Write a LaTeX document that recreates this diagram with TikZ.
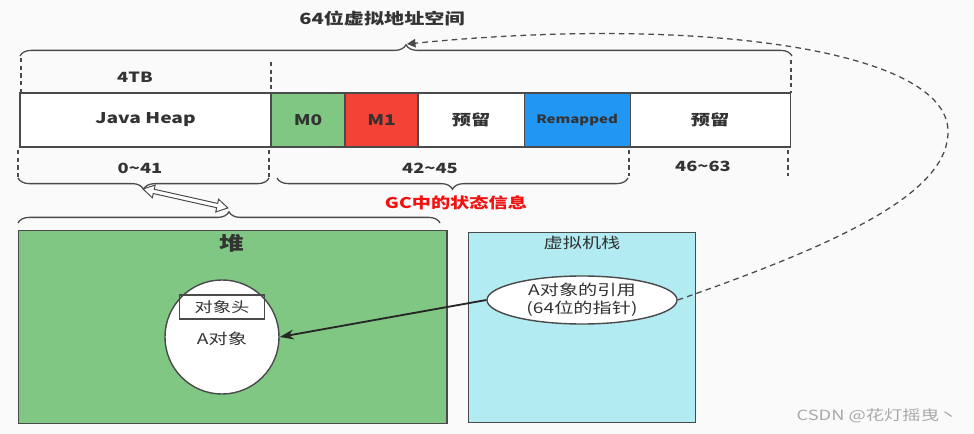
\documentclass[tikz,border=0pt]{standalone}
\usepackage{fontspec}
\setmainfont{Noto Sans CJK SC}[FakeStretch=1.3]
\usetikzlibrary{positioning,shapes.geometric,decorations.pathreplacing,arrows.meta,calc}
\definecolor{bgc}{HTML}{FAFAFA}
\definecolor{linegray}{HTML}{4A4A4A}
\definecolor{textdark}{HTML}{333333}
\definecolor{m0green}{HTML}{81C784}
\definecolor{m1red}{HTML}{F44336}
\definecolor{remapblue}{HTML}{2196F3}
\definecolor{heapgreen}{HTML}{80C783}
\definecolor{stackcyan}{HTML}{B2EBF2}
\definecolor{gcred}{HTML}{F21010}
\definecolor{markgray}{HTML}{A8A8A8}

\begin{document}
\begin{tikzpicture}[
        x=0.025cm, y=-0.025cm,
        >=Stealth,
        seg/.style={rectangle, draw=linegray, line width=0.9pt, fill=white, minimum height=1.35cm, inner sep=0pt, outer sep=0pt, font=\bfseries\fontsize{10.5}{12}\selectfont, text=textdark},
        lbl/.style={font=\bfseries\fontsize{10}{12}\selectfont, text=textdark},
        brc/.style={draw=linegray, line width=0.9pt, decorate, decoration={brace, amplitude=8pt}},
        guide/.style={draw=linegray, line width=0.9pt, dash pattern=on 3pt off 2.5pt},
        area/.style={rectangle, draw=linegray, line width=1pt, inner sep=0pt},
        link/.style={draw=linegray, fill=white, line width=0.7pt, line join=miter},
        ptr/.style={draw=black!85, line width=1.3pt, -{Stealth[length=10pt, width=7pt]}},
        dashline/.style={draw=linegray, line width=0.9pt, dash pattern=on 4pt off 3pt, -{Triangle[length=6pt, width=6pt]}}
    ]

    % ==========================================
    % 0. Canvas
    % ==========================================
    \fill[bgc] (0,0) rectangle (974,434);
    \useasboundingbox (0,0) rectangle (974,434);

    % ==========================================
    % 1. 64位地址 (Top)
    % ==========================================
    \node[font=\bfseries\fontsize{11}{13}\selectfont, text=textdark] (title) at (382,18) {64位虚拟地址空间};
    \draw[brc] (20,56) -- (792,56);
    \coordinate (toptip) at (407,44);

    \draw[guide] (21,58) -- (21,93);
    \draw[guide] (271,62) -- (271,93);
    \draw[guide] (791,60) -- (791,93);
    \node[lbl] (size) at (135,77) {4TB};

    % 地址位段
    \node[seg, minimum width=6.275cm, anchor=north west] (jheap) at (20,93) {Java Heap};
    \node[seg, fill=m0green, minimum width=1.85cm, right=0pt of jheap] (m0) {M0};
    \node[seg, fill=m1red, minimum width=1.825cm, right=0pt of m0] (m1) {M1};
    \node[seg, minimum width=2.65cm, right=0pt of m1] (rsv1) {预留};
    \node[seg, fill=remapblue, minimum width=2.65cm, right=0pt of rsv1, font=\bfseries\fontsize{8.2}{10}\selectfont] (remap) {Remapped};
    \node[seg, minimum width=4cm, right=0pt of remap] (rsv2) {预留};

    % 位段下方
    \draw[guide] (18,150) -- (18,178);
    \draw[guide] (269,150) -- (269,178);
    \draw[guide] (629,150) -- (629,176);
    \draw[guide] (788,150) -- (788,176);
    \node[lbl] (bits1) at (140,168) {0\textasciitilde41};
    \node[lbl] (bits2) at (430,168) {42\textasciitilde45};
    \node[lbl] (bits3) at (703,166) {46\textasciitilde63};

    \draw[brc] (269,178) -- (18,178);
    \draw[brc] (628,178) -- (277,178);
    \coordinate (lowtip) at (143,189);
    \node[font=\bfseries\fontsize{10.5}{12}\selectfont, text=gcred] (gc) at (456,203) {GC中的状态信息};

    % ==========================================
    % 2. 堆 & 虚拟机栈 (Bottom)
    % ==========================================
    \draw[brc] (18,223) -- (440,223);
    \coordinate (heaptip) at (228,208);

    % 双向空心箭头 (lowtip <-> heaptip)
    \begin{scope}[shift={(lowtip)}, rotate=-12.6]
        \draw[link] (0,0) -- (11,-6.5) -- (11,-2.2) -- (76,-2.2) -- (76,-6.5) -- (87,0)
            -- (76,6.5) -- (76,2.2) -- (11,2.2) -- (11,6.5) -- cycle;
    \end{scope}

    \node[area, fill=heapgreen, minimum width=10.7cm, minimum height=4.825cm, anchor=north west] (heap) at (18,230) {};
    \node[font=\bfseries\fontsize{13.5}{15}\selectfont, text=textdark] (heaplbl) at (232,243) {堆};

    % A对象
    \node[circle, draw=linegray, line width=1pt, fill=white, minimum size=2.85cm, inner sep=0pt] (objA) at (222,337) {};
    \node[rectangle, draw=linegray, line width=0.9pt, minimum width=2.125cm, minimum height=0.6cm, inner sep=0pt, font=\fontsize{10}{12}\selectfont, text=textdark] (hdr) at (222,307) {对象头};
    \node[font=\fontsize{10.5}{12}\selectfont, text=textdark] (objlbl) at (222,339) {A对象};

    \node[area, fill=stackcyan, minimum width=5.675cm, minimum height=4.75cm, anchor=north west] (stack) at (468,232) {};
    \node[font=\fontsize{10.5}{12}\selectfont, text=textdark] (stacklbl) at (582,243) {虚拟机栈};

    \node[ellipse, draw=linegray, line width=1pt, fill=white, minimum width=4.75cm, minimum height=1.2cm, inner sep=0pt, align=center, font=\fontsize{10.5}{12.5}\selectfont, text=textdark] (ref) at (582,300) {A对象的引用\\(64位的指针)};

    % 引用指向对象
    \draw[ptr] (ref.west) -- (objA.east);

    % 指针回到地址空间
    \coordinate (loopR) at (948,130);
    \draw[dashline] (ref.east) .. controls (850,240) and (950,190) .. (loopR)
        .. controls (945,50) and (700,15) .. (toptip);

    \node[font=\fontsize{10}{12}\selectfont, text=markgray] (mark) at (877,416) {CSDN @花灯摇曳丶};

\end{tikzpicture}
\end{document}
